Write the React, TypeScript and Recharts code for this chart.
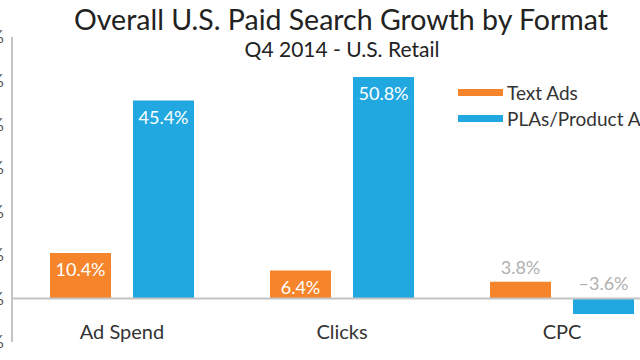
import { BarChart, Bar, XAxis, YAxis, ReferenceLine, LabelList } from 'recharts';

const ORANGE = '#F5842A';
const BLUE = '#22A8E0';
const AXIS = '#c4c4c4';

const categories = ['Ad Spend', 'Clicks', 'CPC'];
const textAds = [10.4, 6.4, 3.8];
const plas = [45.4, 50.8, -3.6];
const seriesNames = ['Text Ads', 'PLAs/Product Ads'];
const yTicks = [-10, 0, 10, 20, 30, 40, 50, 60];

const data = categories.map((c, i) => ({ name: c, text: textAds[i], pla: plas[i] }));

const FONT = 'Lato, "Open Sans", sans-serif';

function fmt(v: number) {
  return v < 0 ? `\u2013${Math.abs(v).toFixed(1)}%` : `${v.toFixed(1)}%`;
}

function BarLabel(props: any) {
  const { x, y, width, height, value } = props;
  const top = Math.min(y, y + height);
  const inside = value >= 6;
  const ty = inside ? top + 23 : top - 8;
  return (
    <text
      x={x + width / 2}
      y={ty}
      textAnchor="middle"
      fontSize={18}
      fontFamily={FONT}
      fill={inside ? '#fff' : '#b0b0b0'}
    >
      {fmt(value)}
    </text>
  );
}

function CatTick(props: any) {
  const { x, y, payload } = props;
  return (
    <text x={x} y={y} dy={-11} textAnchor="middle" fontSize={20} fontFamily={FONT} fill="#333">
      {payload.value}
    </text>
  );
}

export default function App() {
  return (
    <div style={{ position: 'fixed', left: 0, top: 0, width: 640, height: 360, overflow: 'hidden', background: '#fff' }}>
      <div style={{ position: 'absolute', left: -28, top: 0 }}>
        <BarChart width={700} height={360} data={data} margin={{ top: 37, right: 0, bottom: 0, left: 0 }} barSize={61} barGap={22}>
          <YAxis
            width={40}
            domain={[-10, 60]}
            ticks={yTicks}
            tickFormatter={(v: number) => `${v}%`}
            tickLine={false}
            axisLine={{ stroke: AXIS, strokeWidth: 2 }}
            tick={{ fontSize: 18, fill: '#555', fontFamily: FONT }}
          />
          <XAxis
            dataKey="name"
            height={18}
            axisLine={false}
            tickLine={false}
            tick={<CatTick />}
          />
          <ReferenceLine y={0} stroke={AXIS} strokeWidth={2} />
          <Bar dataKey="text" fill={ORANGE} isAnimationActive={false}>
            <LabelList dataKey="text" content={<BarLabel />} />
          </Bar>
          <Bar dataKey="pla" fill={BLUE} isAnimationActive={false}>
            <LabelList dataKey="pla" content={<BarLabel />} />
          </Bar>
        </BarChart>
      </div>
      <div style={{ position: 'absolute', left: 0, width: 682, top: 2, textAlign: 'center', fontFamily: FONT, fontSize: 28.5, color: '#222', lineHeight: '34px' }}>
        Overall U.S. Paid Search Growth by Format
      </div>
      <div style={{ position: 'absolute', left: 0, width: 684, top: 36, textAlign: 'center', fontFamily: FONT, fontSize: 21, color: '#222', lineHeight: '26px' }}>
        Q4 2014 - U.S. Retail
      </div>
      <div style={{ position: 'absolute', left: 458, top: 79, fontFamily: FONT, fontSize: 19, color: '#333', whiteSpace: 'nowrap' }}>
        {seriesNames.map((n, i) => (
          <div key={n} style={{ display: 'flex', alignItems: 'center', height: 26 }}>
            <span style={{ display: 'inline-block', width: 45, height: 7, background: i === 0 ? ORANGE : BLUE, marginRight: 4 }} />
            <span>{n}</span>
          </div>
        ))}
      </div>
    </div>
  );
}
